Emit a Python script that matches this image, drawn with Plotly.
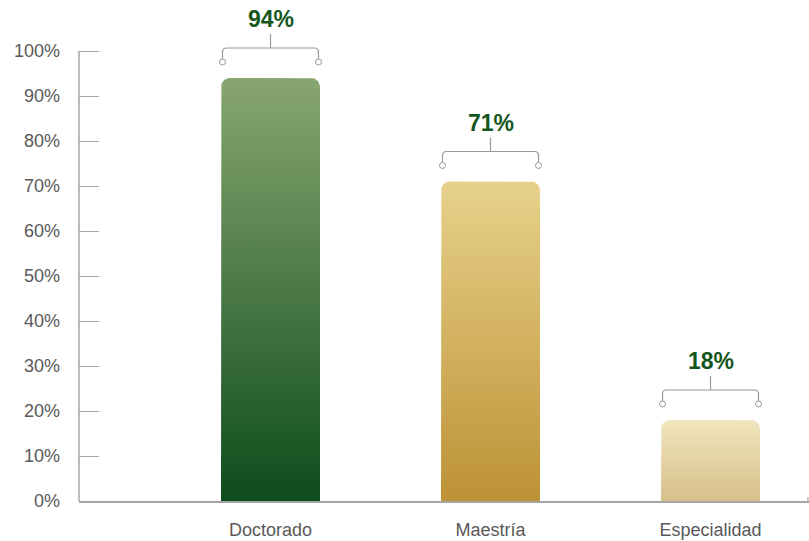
import plotly.graph_objects as go
import numpy as np

categories = ["Doctorado", "Maestría", "Especialidad"]
values = [94, 71, 18]
value_labels = ["94%", "71%", "18%"]
y_tick_vals = [0, 10, 20, 30, 40, 50, 60, 70, 80, 90, 100]
y_tick_text = ["0%", "10%", "20%", "30%", "40%", "50%", "60%", "70%", "80%", "90%", "100%"]

bottom_colors = ["#0d4c1c", "#bd9235", "#d6bf8a"]
top_colors = ["#88a670", "#e7d18b", "#f0e5be"]

W, H = 809, 541
ML, MR, MT, MB = 79, 0, 0, 40
px_per_x = 220.0
px_per_y = 4.5
x_first_center_px = 270.5
x_range = [(ML - x_first_center_px) / px_per_x, (W - MR - x_first_center_px) / px_per_x]
y_range = [0, (H - MT - MB) / px_per_y]

bar_w = 0.45
r_px = 9
rx = r_px / px_per_x
ry = r_px / px_per_y

axis_color = "#a6a6a6"
bracket_color = "#9a9a9a"
label_color = "#15561d"
tick_color = "#595959"

fig = go.Figure()

for i, (cat, v) in enumerate(zip(categories, values)):
    xl, xr = i - bar_w / 2, i + bar_w / 2
    th = np.linspace(np.pi, np.pi / 2, 12)
    left_arc_x = (xl + rx) + rx * np.cos(th)
    left_arc_y = (v - ry) + ry * np.sin(th)
    th2 = np.linspace(np.pi / 2, 0, 12)
    right_arc_x = (xr - rx) + rx * np.cos(th2)
    right_arc_y = (v - ry) + ry * np.sin(th2)
    xs = [xl] + list(left_arc_x) + list(right_arc_x) + [xr, xl]
    ys = [0] + list(left_arc_y) + list(right_arc_y) + [0, 0]
    fig.add_trace(go.Scatter(
        x=xs, y=ys, mode="lines", fill="toself",
        line=dict(width=0, color="rgba(0,0,0,0)"),
        fillgradient=dict(type="vertical",
                          colorscale=[[0, bottom_colors[i]], [1, top_colors[i]]]),
        hoverinfo="skip", showlegend=False,
    ))

shapes = []
# y axis line (0 to 100)
shapes.append(dict(type="line", xref="paper", yref="y", x0=0, x1=0, y0=0, y1=100,
                   line=dict(color=axis_color, width=1.5), layer="above"))
# small end mark on x axis
shapes.append(dict(type="line", xref="paper", yref="y", x0=0.9985, x1=0.9985,
                   ysizemode="pixel", yanchor=0, y0=-4, y1=4,
                   line=dict(color=axis_color, width=1.2)))

for i, v in enumerate(values):
    path = ("M0,44 L0,30 M-48,16 L-48,26 Q-48,30 -44,30 L44,30 "
            "Q48,30 48,26 L48,16")
    shapes.append(dict(type="path", xref="x", yref="y",
                       xsizemode="pixel", xanchor=i,
                       ysizemode="pixel", yanchor=v,
                       path=path, line=dict(color=bracket_color, width=1.2)))
    for dx in (-48, 48):
        shapes.append(dict(type="circle", xref="x", yref="y",
                           xsizemode="pixel", xanchor=i,
                           ysizemode="pixel", yanchor=v,
                           x0=dx - 3, x1=dx + 3, y0=13, y1=19,
                           fillcolor="white",
                           line=dict(color=bracket_color, width=1)))

annotations = []
for i, (v, lab) in enumerate(zip(values, value_labels)):
    annotations.append(dict(x=i, y=v, text=lab, showarrow=False,
                            xref="x", yref="y", yshift=59, yanchor="middle",
                            font=dict(family="Liberation Sans, Arial", size=23,
                                      color=label_color, weight="bold")))

fig.update_layout(
    width=W, height=H,
    margin=dict(l=ML, r=MR, t=MT, b=MB),
    paper_bgcolor="white", plot_bgcolor="white",
    shapes=shapes, annotations=annotations,
    font=dict(family="Liberation Sans, Arial", size=18, color=tick_color),
    xaxis=dict(range=x_range, tickmode="array", tickvals=[0, 1, 2],
               ticktext=categories, showgrid=False, zeroline=False,
               showline=True, linecolor=axis_color, linewidth=1.5,
               ticks="", ticklabelstandoff=12,
               tickfont=dict(size=18, color=tick_color)),
    yaxis=dict(range=y_range, tickmode="array", tickvals=y_tick_vals,
               ticktext=y_tick_text, showgrid=False, zeroline=False,
               showline=False, ticks="inside", ticklen=20, tickwidth=1.2,
               tickcolor=axis_color, ticklabelstandoff=18,
               tickfont=dict(size=18, color=tick_color)),
    showlegend=False,
)

fig.write_html("out.html", config={"displayModeBar": False},
               post_script="document.body.style.margin='0';document.body.style.overflow='hidden';")
